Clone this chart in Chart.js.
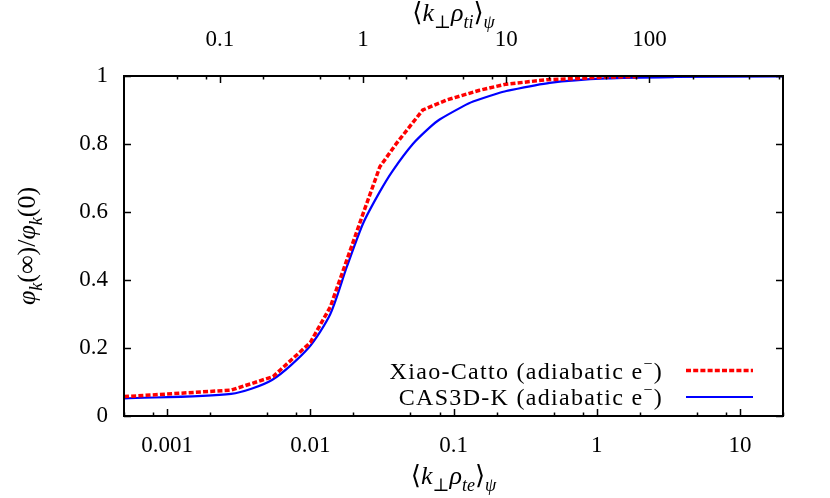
<!DOCTYPE html>
<html>
<head>
<meta charset="utf-8">
<script src="https://cdn.jsdelivr.net/npm/chart.js@4.4.1/dist/chart.umd.min.js"></script>
<style>
  html, body { margin: 0; padding: 0; background: #fff; }
  #wrap { width: 830px; height: 498px; }
</style>
</head>
<body>
<div id="wrap"><canvas id="zonalFlow" width="830" height="498"></canvas></div>
<script>
// Xiao-Catto (adiabatic e-)
const xiaoK   = [0.0005, 0.0028, 0.0055, 0.01, 0.0138, 0.018, 0.0234, 0.0306, 0.04, 0.061, 0.089, 0.152, 0.233, 0.45, 0.75, 1.17, 1.93];
const xiaoRes = [0.057, 0.076, 0.116, 0.216, 0.321, 0.459, 0.596, 0.733, 0.802, 0.9, 0.929, 0.958, 0.976, 0.989, 0.993, 0.997, 0.998];
// CAS3D-K (adiabatic e-)
const casK   = [0.0005, 0.0028, 0.0054, 0.0097, 0.0138, 0.018, 0.0234, 0.0306, 0.0377, 0.052, 0.068, 0.08, 0.1155, 0.137, 0.2, 0.234, 0.47, 1.17, 3.5, 20];
const casRes = [0.052, 0.065, 0.106, 0.2, 0.30, 0.439, 0.567, 0.66, 0.722, 0.80, 0.848, 0.872, 0.91, 0.925, 0.948, 0.956, 0.98, 0.993, 0.997, 0.999];

const seriesNames = ['Xiao-Catto (adiabatic e⁻)', 'CAS3D-K (adiabatic e⁻)'];

// rho_ti / rho_te  (sqrt(m_i/m_e))
const massRatio = 42.85;
const xMin = 0.0005, xMax = 20;

const bottomTicks  = [0.001, 0.01, 0.1, 1, 10];
const bottomLabels = ['0.001', '0.01', '0.1', '1', '10'];
const topTicks     = [0.1, 1, 10, 100];
const topLabels    = ['0.1', '1', '10', '100'];
const yTicks       = [0, 0.2, 0.4, 0.6, 0.8, 1];
const yLabels      = ['0', '0.2', '0.4', '0.6', '0.8', '1'];

const serif = '"Liberation Serif", "DejaVu Serif", serif';

// draws a run of text pieces with italic / sub / sup
function drawRich(ctx, parts, x, y, align, big, small, spacing) {
  const fontOf = p => (p.it ? 'italic ' : '') + ((p.sub || p.sup) ? small : big) + 'px ' + serif;
  ctx.letterSpacing = (spacing || 0) + 'px';
  let w = 0;
  parts.forEach(p => { ctx.font = fontOf(p); w += ctx.measureText(p.t).width; });
  let cx = align === 'center' ? x - w / 2 : align === 'right' ? x - w : x;
  ctx.textAlign = 'left';
  ctx.textBaseline = 'alphabetic';
  parts.forEach(p => {
    ctx.font = fontOf(p);
    const dy = p.sub ? big * 0.27 : p.sup ? -big * 0.4 : 0;
    ctx.fillText(p.t, cx, y + dy);
    cx += ctx.measureText(p.t).width;
  });
  ctx.letterSpacing = '0px';
}

const titleBottom = [{t: '⟨'}, {t: 'k', it: 1}, {t: '⊥', sub: 1}, {t: 'ρ', it: 1}, {t: 'te', it: 1, sub: 1}, {t: '⟩'}, {t: 'ψ', it: 1, sub: 1}];
const titleTop    = [{t: '⟨'}, {t: 'k', it: 1}, {t: '⊥', sub: 1}, {t: 'ρ', it: 1}, {t: 'ti', it: 1, sub: 1}, {t: '⟩'}, {t: 'ψ', it: 1, sub: 1}];
const titleY      = [{t: 'φ', it: 1}, {t: 'k', it: 1, sub: 1}, {t: '(∞)/'}, {t: 'φ', it: 1}, {t: 'k', it: 1, sub: 1}, {t: '(0)'}];

const frameAndTicks = {
  id: 'frameAndTicks',
  afterDraw(chart) {
    const { ctx, chartArea: a, scales } = chart;
    ctx.save();
    ctx.strokeStyle = '#000';
    ctx.fillStyle = '#000';
    ctx.lineWidth = 1.5;
    const seg = (x1, y1, x2, y2) => { ctx.beginPath(); ctx.moveTo(x1, y1); ctx.lineTo(x2, y2); ctx.stroke(); };

    // log ticks, majors at decades, minors at 2,5,8
    function logTicks(scale, edge, dir) {
      const lo = Math.floor(Math.log10(scale.min)), hi = Math.ceil(Math.log10(scale.max));
      for (let e = lo; e <= hi; e++) {
        [1, 2, 5, 8].forEach(m => {
          const v = m * Math.pow(10, e);
          if (v < scale.min || v > scale.max) return;
          const px = Math.round(scale.getPixelForValue(v)) + 0.5;
          seg(px, edge, px, edge + dir * (m === 1 ? 7 : 3.5));
        });
      }
    }
    logTicks(scales.x, a.bottom, -1);
    logTicks(scales.x2, a.top, 1);
    yTicks.forEach(v => {
      const py = Math.round(scales.y.getPixelForValue(v)) + 0.5;
      seg(a.left, py, a.left + 7, py);
      seg(a.right, py, a.right - 7, py);
    });

    ctx.lineWidth = 2;
    ctx.strokeRect(a.left, a.top, a.right - a.left, a.bottom - a.top);

    // legend, bottom right inside the frame
    chart.data.datasets.forEach((ds, i) => {
      const ry = a.bottom - 45.5 + i * 26.5;
      const [pre, post] = ds.label.split('⁻');
      drawRich(ctx, [{t: pre}, {t: '−', sup: 1}, {t: post}], a.right - 120, ry + 8, 'right', 24, 16, 1.3);
      ctx.strokeStyle = ds.borderColor;
      ctx.lineWidth = ds.borderWidth;
      ctx.setLineDash(ds.borderDash || []);
      seg(a.right - 97, ry, a.right - 30, ry);
      ctx.setLineDash([]);
    });

    // axis titles
    ctx.fillStyle = '#000';
    const cx = (a.left + a.right) / 2;
    drawRich(ctx, titleBottom, cx, 484, 'center', 26, 18);
    drawRich(ctx, titleTop, cx, 21, 'center', 26, 18);
    ctx.translate(35, (a.top + a.bottom) / 2);
    ctx.rotate(-Math.PI / 2);
    drawRich(ctx, titleY, 0, 0, 'center', 26, 18);
    ctx.restore();
  }
};

const tickFont = { family: serif, size: 23 };

new Chart(document.getElementById('zonalFlow'), {
  type: 'line',
  data: {
    datasets: [{
      label: seriesNames[0],
      data: xiaoK.map((k, i) => ({ x: k, y: xiaoRes[i] })),
      borderColor: '#ff0000',
      borderWidth: 3.5,
      borderDash: [5, 2.2],
      pointRadius: 0,
      tension: 0
    }, {
      label: seriesNames[1],
      data: casK.map((k, i) => ({ x: k, y: casRes[i] })),
      borderColor: '#0000ff',
      borderWidth: 2.2,
      pointRadius: 0,
      tension: 0.25
    }]
  },
  options: {
    responsive: false,
    animation: false,
    devicePixelRatio: 1,
    layout: { padding: { left: 0, right: 47, top: 0, bottom: 0 } },
    plugins: { legend: { display: false }, tooltip: { enabled: false } },
    scales: {
      x: {
        type: 'logarithmic', position: 'bottom', min: xMin, max: xMax,
        grid: { display: false, drawTicks: false }, border: { display: false },
        afterBuildTicks: s => { s.ticks = bottomTicks.map(v => ({ value: v })); },
        afterFit: s => { s.height = 82; },
        ticks: {
          autoSkip: false, maxRotation: 0, padding: 16, color: '#000', font: tickFont,
          callback: v => bottomLabels[bottomTicks.indexOf(v)] ?? ''
        }
      },
      x2: {
        type: 'logarithmic', position: 'top', min: xMin * massRatio, max: xMax * massRatio,
        grid: { display: false, drawTicks: false }, border: { display: false },
        afterBuildTicks: s => { s.ticks = topTicks.map(v => ({ value: v })); },
        afterFit: s => { s.height = 76; },
        ticks: {
          autoSkip: false, maxRotation: 0, padding: 22, color: '#000', font: tickFont,
          callback: v => topLabels[topTicks.indexOf(v)] ?? ''
        }
      },
      y: {
        type: 'linear', min: 0, max: 1,
        grid: { display: false, drawTicks: false }, border: { display: false },
        afterBuildTicks: s => { s.ticks = yTicks.map(v => ({ value: v })); },
        afterFit: s => { s.width = 124; },
        ticks: {
          padding: 16, color: '#000', font: tickFont,
          callback: v => yLabels[yTicks.indexOf(v)] ?? ''
        }
      }
    }
  },
  plugins: [frameAndTicks]
});
</script>
</body>
</html>
